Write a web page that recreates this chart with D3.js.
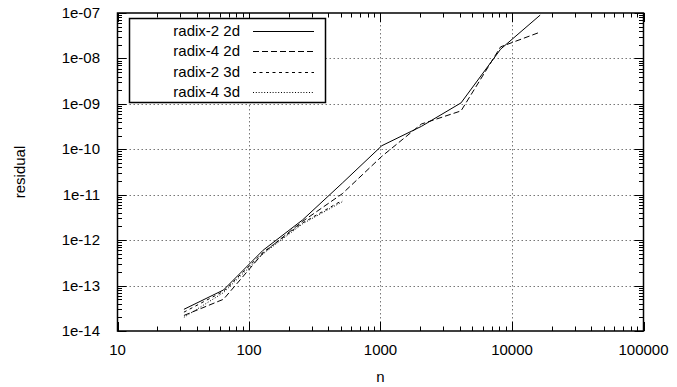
<!DOCTYPE html>
<html>
<head>
  <meta charset="utf-8">
  <title>residual vs n</title>
  <style>
    body { margin: 0; background: #fff; }
    svg text { font-family: "Liberation Sans", Arial, sans-serif; font-size: 15px; fill: #000; }
  </style>
</head>
<body>
  <svg id="chart" width="677" height="387"></svg>

  <script src="https://d3js.org/d3.v7.min.js"></script>
  <script>
    // data
    const n2d = [32, 64, 128, 256, 512, 1024, 2048, 4096, 8192, 16384];
    const radix2_2d = [3.0e-14, 8.0e-14, 6.0e-13, 2.8e-12, 1.8e-11, 1.2e-10, 3.2e-10, 1.05e-9, 1.6e-8, 9.0e-8];
    const radix4_2d = [2.2e-14, 5.0e-14, 5.2e-13, 2.6e-12, 1.05e-11, 7.0e-11, 3.6e-10, 7.0e-10, 1.8e-8, 3.8e-8];
    const n3d = [32, 64, 128, 256, 512];
    const radix2_3d = [2.6e-14, 7.5e-14, 5.4e-13, 2.4e-12, 7.5e-12];
    const radix4_3d = [2.0e-14, 7.0e-14, 5.0e-13, 2.3e-12, 7.0e-12];

    const xTicks = [10, 100, 1000, 10000, 100000];
    const yTicks = [1e-14, 1e-13, 1e-12, 1e-11, 1e-10, 1e-9, 1e-8, 1e-7];
    const yTickLabels = ["1e-14", "1e-13", "1e-12", "1e-11", "1e-10", "1e-09", "1e-08", "1e-07"];

    const series = [
      { name: "radix-2 2d", xs: n2d, ys: radix2_2d, dash: null },
      { name: "radix-4 2d", xs: n2d, ys: radix4_2d, dash: "6,3" },
      { name: "radix-2 3d", xs: n3d, ys: radix2_3d, dash: "3,3.5" },
      { name: "radix-4 3d", xs: n3d, ys: radix4_3d, dash: "1,1.8" }
    ];

    const svg = d3.select("#chart");
    const pl = 117.5, pr = 643.5, pt = 13, pb = 331;

    const x = d3.scaleLog().domain([10, 100000]).range([pl, pr]);
    const y = d3.scaleLog().domain([1e-14, 1e-7]).range([pb, pt]);

    // minor tick values (2..9 per decade)
    function minors(lo, hi) {
      const out = [];
      for (let e = Math.round(Math.log10(lo)); e < Math.round(Math.log10(hi)); e++) {
        for (let k = 2; k <= 9; k++) out.push(k * Math.pow(10, e));
      }
      return out;
    }

    // grid
    const grid = svg.append("g")
      .attr("stroke", "#777")
      .attr("stroke-width", 1)
      .attr("stroke-dasharray", "1.5,2.5");
    grid.selectAll(".gx").data(xTicks.slice(1, -1)).enter().append("line")
      .attr("x1", d => Math.round(x(d)) + 0.5).attr("x2", d => Math.round(x(d)) + 0.5)
      .attr("y1", pt).attr("y2", pb);
    grid.selectAll(".gy").data(yTicks.slice(1, -1)).enter().append("line")
      .attr("y1", d => Math.round(y(d)) + 0.5).attr("y2", d => Math.round(y(d)) + 0.5)
      .attr("x1", pl).attr("x2", pr);

    // ticks on all four sides, pointing inward
    const ticks = svg.append("g").attr("stroke", "#000").attr("stroke-width", 1);
    const majorLen = 9, minorLen = 4.5;
    [[xTicks, majorLen], [minors(10, 100000), minorLen]].forEach(([vals, len]) => {
      vals.forEach(v => {
        const px = Math.round(x(v)) + 0.5;
        ticks.append("line").attr("x1", px).attr("x2", px).attr("y1", pb).attr("y2", pb - len);
        ticks.append("line").attr("x1", px).attr("x2", px).attr("y1", pt).attr("y2", pt + len);
      });
    });
    [[yTicks, majorLen], [minors(1e-14, 1e-7), minorLen]].forEach(([vals, len]) => {
      vals.forEach(v => {
        const py = Math.round(y(v)) + 0.5;
        ticks.append("line").attr("y1", py).attr("y2", py).attr("x1", pl).attr("x2", pl + len);
        ticks.append("line").attr("y1", py).attr("y2", py).attr("x1", pr).attr("x2", pr - len);
      });
    });

    // series lines
    const line = d3.line().x(d => x(d[0])).y(d => y(d[1]));
    series.forEach(s => {
      svg.append("path")
        .datum(s.xs.map((v, i) => [v, s.ys[i]]))
        .attr("fill", "none")
        .attr("stroke", "#000")
        .attr("stroke-width", 1)
        .attr("stroke-dasharray", s.dash)
        .attr("d", line);
    });

    // frame
    svg.append("rect")
      .attr("x", pl).attr("y", pt)
      .attr("width", pr - pl).attr("height", pb - pt)
      .attr("fill", "none").attr("stroke", "#000").attr("stroke-width", 1.5);

    // tick labels
    svg.selectAll(".xl").data(xTicks).enter().append("text")
      .attr("x", d => x(d)).attr("y", 355)
      .attr("text-anchor", "middle")
      .text(d => d);
    svg.selectAll(".yl").data(yTicks).enter().append("text")
      .attr("x", 100).attr("y", d => y(d) + 5)
      .attr("text-anchor", "end")
      .text((d, i) => yTickLabels[i]);

    // axis titles
    svg.append("text").attr("x", (pl + pr) / 2).attr("y", 382)
      .attr("text-anchor", "middle").text("n");
    svg.append("text")
      .attr("transform", `translate(25,${(pt + pb) / 2}) rotate(-90)`)
      .attr("text-anchor", "middle").text("residual");

    // legend
    const lg = svg.append("g");
    lg.append("rect")
      .attr("x", 129.5).attr("y", 18.5).attr("width", 196).attr("height", 84)
      .attr("fill", "#fff").attr("stroke", "#000").attr("stroke-width", 1.5);
    series.forEach((s, i) => {
      const cy = 31 + i * 20.3;
      lg.append("text").attr("x", 240).attr("y", cy + 5)
        .attr("text-anchor", "end").text(s.name);
      lg.append("line")
        .attr("x1", 253).attr("x2", 314)
        .attr("y1", Math.round(cy) + 0.5).attr("y2", Math.round(cy) + 0.5)
        .attr("stroke", "#000").attr("stroke-width", 1)
        .attr("stroke-dasharray", s.dash);
    });
  </script>
</body>
</html>
